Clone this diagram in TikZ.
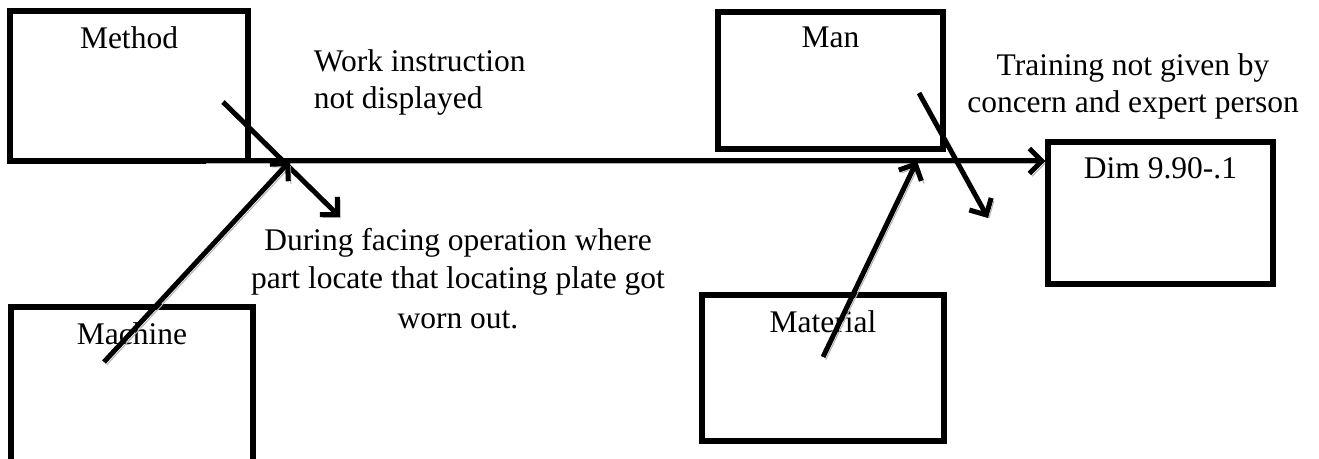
\documentclass[tikz,border=0pt]{standalone}
\usepackage{fontspec}
\setmainfont{Liberation Serif}
\usetikzlibrary{shapes,arrows.meta,positioning}

\begin{document}
\begin{tikzpicture}[% styles for the whole fishbone, override case-by-case
		x=0.4pt, y=-0.4pt,	% one unit is one pixel of the sketch, y runs down
		every node/.style={
			align=center,	% use this so that the "\\" for line break works
			font=\fontsize{12.6}{14.8}\selectfont
		},
		box/.style={rectangle,draw=black,line width=2.1pt,fill=white,inner sep=0pt},
		boxtext/.style={},
		cause/.style={anchor=base},	% base is the baseline of the last line
		bone/.style={draw,line width=2pt,-{Straight Barb[length=5pt,width=10pt]},
			preaction={draw=gray!60,transform canvas={shift={(1.1pt,-1.1pt)}}}	% the grey shadow
		}
	]
	\useasboundingbox (0,0) rectangle (1319,459);
	\clip (0,0) rectangle (1319,459);
	% the five boxes
	\node[box,minimum width=95.2pt,minimum height=60pt](Method) at (129,86) {};
	\node[box,minimum width=96.8pt,minimum height=63.2pt](Machine) at (132,386) {};
	\node[box,minimum width=90pt,minimum height=54.8pt](Man) at (830.5,80.5) {};
	\node[box,minimum width=96.8pt,minimum height=58.4pt](Material) at (823,368) {};
	\node[box,minimum width=90pt,minimum height=56.8pt](Effect) at (1160.5,213) {};
	\node[boxtext](MethodT)[below=3.6pt of Method.north]{Method};
	\node[boxtext](MachineT)[below=3.6pt of Machine.north]{Machine};
	\node[boxtext](ManT)[below=3.6pt of Man.north]{Man};
	\node[boxtext](MaterialT)[below=3.6pt of Material.north]{Material};
	\node[boxtext](EffectT)[below=3.6pt of Effect.north]{Dim 9.90-.1};
	% the causes written beside the bones
	\node[cause,align=left,anchor=base west](WorkInstr) at (305,109) {Work instruction\\not displayed};
	\node[cause](Training) at (1133,113) {Training not given by\\concern and expert person};
	\node[cause,font=\fontsize{12.6}{15.2}\selectfont](Facing) at (458,328) {During facing operation where\\part locate that locating plate got\\[0.8pt]worn out.};
	% ends of the bones
	\coordinate (spine0) at (203,161);
	\coordinate (MethodTail) at (223,102);
	\coordinate (MethodHead) at (340,217);
	\coordinate (MachineTail) at (104,362);
	\coordinate (MachineHit) at (290,161);
	\coordinate (ManTail) at (919,93);
	\coordinate (ManHead) at (988,218);
	\coordinate (MaterialTail) at (823,357);
	\coordinate (MaterialHit) at (917,161);
	\path[bone]
	(spine0) -- (spine0 -| Effect.west);
	\path[bone] (MethodTail) -- (MethodHead);
	\path[bone] (MachineTail) -- (MachineHit);
	\path[bone] (ManTail) -- (ManHead);
	\path[bone] (MaterialTail) -- (MaterialHit);
\end{tikzpicture}
\end{document}
